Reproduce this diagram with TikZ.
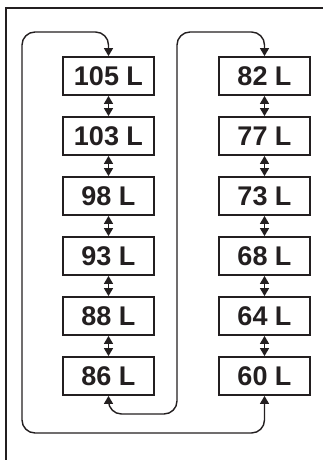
\documentclass[tikz,border=0pt]{standalone}
\usepackage{fontspec}
\setmainfont{Liberation Sans}
\usetikzlibrary{arrows.meta}
\definecolor{ink}{HTML}{231F20}
\begin{document}
\begin{tikzpicture}[x=1pt,y=-1pt,
  vol/.style={draw=ink,line width=1.8pt,minimum width=91pt,minimum height=38pt,inner sep=0pt,
    font=\fontsize{27}{29}\selectfont\bfseries,text=ink},
  link/.style={draw=ink,line width=1.4pt,{Triangle[length=8pt,width=9pt]}-{Triangle[length=8pt,width=9pt]}},
  loop/.style={link,rounded corners=13pt}]
\useasboundingbox (0,0) rectangle (323,460);
\draw[ink,line width=2pt] (323,8) -- (6,8) -- (6,460);
\node[vol] (a1) at (108.5,76) {105 L};
\node[vol] (a2) at (108.5,136) {103 L};
\node[vol] (a3) at (108.5,196) {98 L};
\node[vol] (a4) at (108.5,256) {93 L};
\node[vol] (a5) at (108.5,316) {88 L};
\node[vol] (a6) at (108.5,376) {86 L};
\node[vol] (b1) at (264.5,76) {82 L};
\node[vol] (b2) at (264.5,136) {77 L};
\node[vol] (b3) at (264.5,196) {73 L};
\node[vol] (b4) at (264.5,256) {68 L};
\node[vol] (b5) at (264.5,316) {64 L};
\node[vol] (b6) at (264.5,376) {60 L};
\foreach \i/\j in {1/2,2/3,3/4,4/5,5/6}{
  \draw[link] (a\i.south) -- (a\j.north);
  \draw[link] (b\i.south) -- (b\j.north);
}
\coordinate (p1) at (108.5,414);
\coordinate (p2) at (177,414);
\coordinate (p3) at (177,32);
\coordinate (p4) at (264.5,32);
\draw[loop] (a6.south) -- (p1) -- (p2) -- (p3) -- (p4) -- (b1.north);
\coordinate (q1) at (264.5,433);
\coordinate (q2) at (22,433);
\coordinate (q3) at (22,32);
\coordinate (q4) at (108.5,32);
\draw[loop] (b6.south) -- (q1) -- (q2) -- (q3) -- (q4) -- (a1.north);
\end{tikzpicture}
\end{document}
